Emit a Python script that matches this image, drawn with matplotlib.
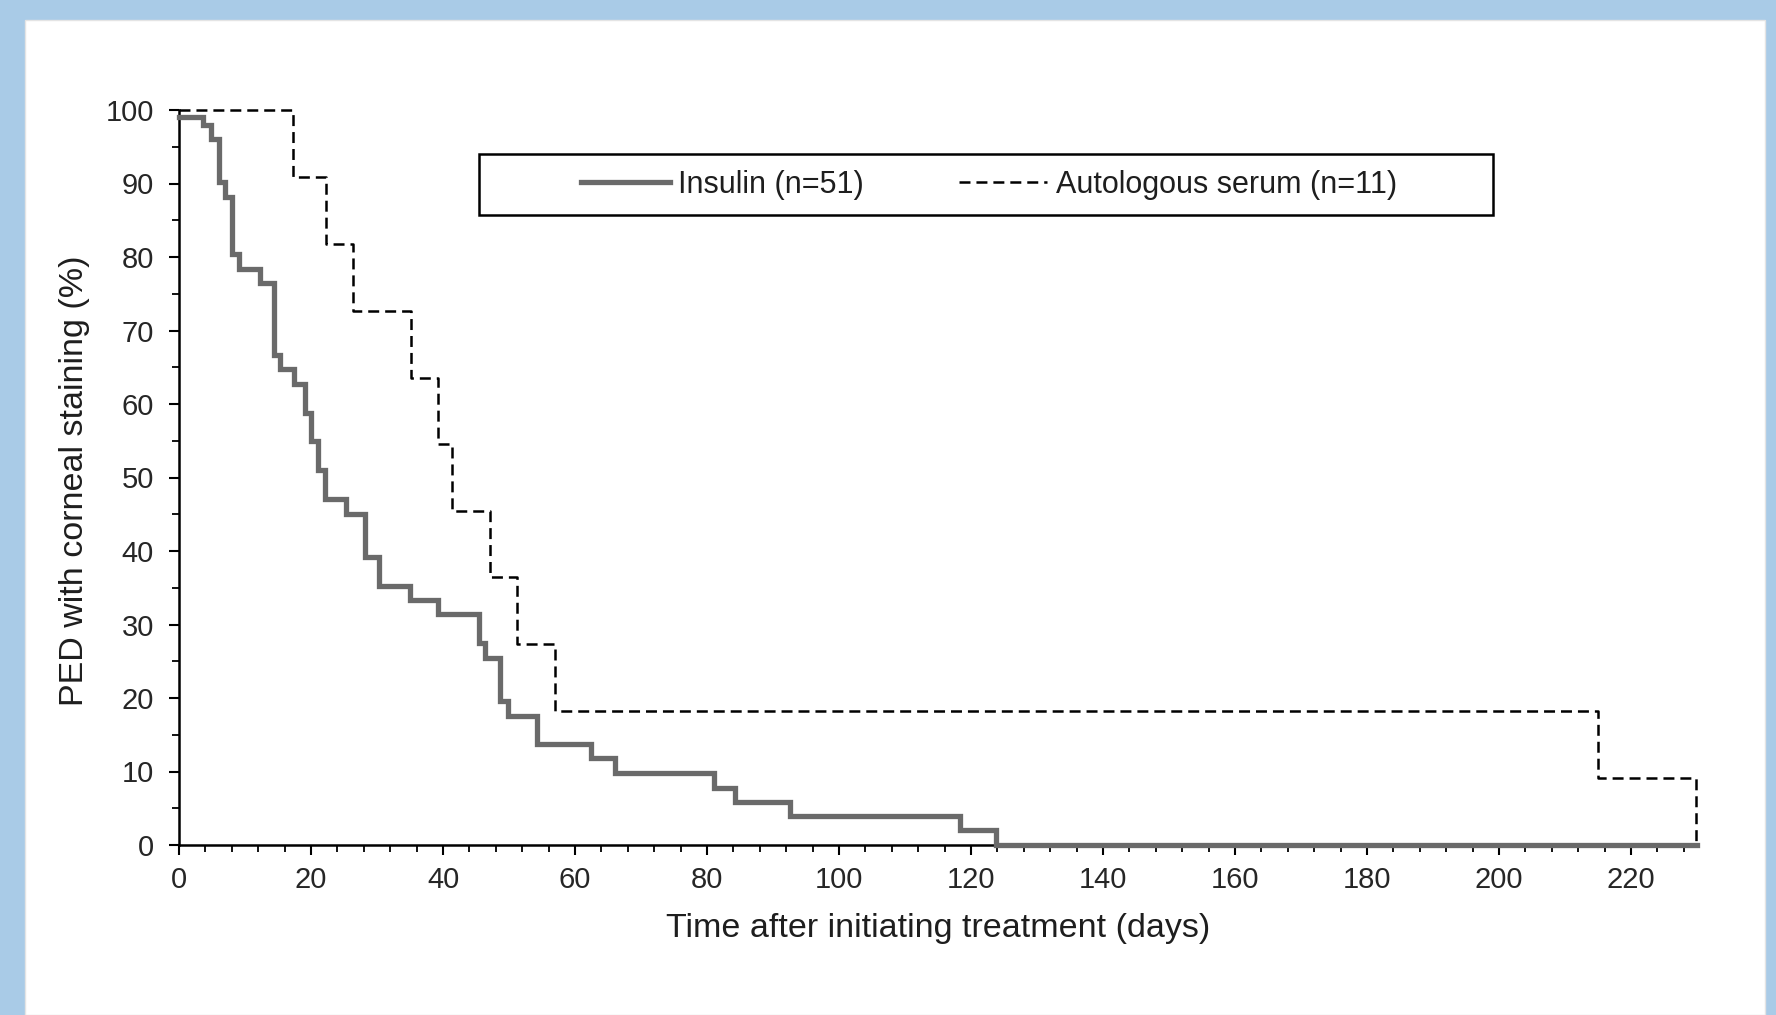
import matplotlib
matplotlib.use("Agg")
import matplotlib.pyplot as plt
from matplotlib.patches import Rectangle
from matplotlib.ticker import MultipleLocator

# ---------------- data ----------------
# Insulin (n=51): start level, then drop times (days) and level after each drop (%)
insulin_start = 99.0
insulin_times = [3.6, 4.9, 6.1, 7.0, 8.0, 9.1, 12.3, 14.4, 15.3, 17.4, 19.1, 20.0,
                 21.1, 22.1, 25.3, 28.2, 30.3, 35.0, 39.3, 45.4, 46.3, 48.7, 49.9,
                 54.2, 62.4, 66.1, 81.0, 84.2, 92.5, 118.3, 123.8]
insulin_levels = [98.0, 96.1, 90.2, 88.2, 80.4, 78.4, 76.5, 66.7, 64.7, 62.7, 58.8, 54.9,
                  51.0, 47.1, 45.1, 39.2, 35.3, 33.3, 31.4, 27.5, 25.5, 19.6, 17.6,
                  13.7, 11.8, 9.8, 7.8, 5.9, 3.9, 2.0, 0.0]
insulin_end = 230

# Autologous serum (n=11)
serum_start = 100.0
serum_times = [17.3, 22.3, 26.3, 35.2, 39.3, 41.4, 47.1, 51.2, 57.0, 215.0, 229.8]
serum_levels = [90.9, 81.8, 72.7, 63.6, 54.5, 45.5, 36.4, 27.3, 18.2, 9.1, 0.0]

labels = ["Insulin (n=51)", "Autologous serum (n=11)"]
x_label = "Time after initiating treatment (days)"
y_label = "PED with corneal staining (%)"
x_major = list(range(0, 221, 20))
y_major = list(range(0, 101, 10))

# ---------------- style ----------------
plt.rcParams['font.family'] = ['Liberation Sans', 'DejaVu Sans']
plt.rcParams['lines.scale_dashes'] = False

W, H = 1776, 1015
fig = plt.figure(figsize=(W / 100, H / 100), dpi=100)
fig.patch.set_facecolor('#a9cbe7')
panel = Rectangle((25 / W, 0), (1765 - 25) / W, (H - 20) / H,
                  transform=fig.transFigure, facecolor='white',
                  edgecolor='#e4e4e4', lw=1.0, zorder=-10)
fig.patches.append(panel)

ax = fig.add_axes([179 / W, (H - 845) / H, 1518 / W, 735 / H])
ax.set_facecolor('none')
ax.set_zorder(5)

ix = [0] + insulin_times + [insulin_end]
iy = [insulin_start] + insulin_levels + [insulin_levels[-1]]
sx = [0] + serum_times
sy = [serum_start] + serum_levels

ax.step(ix, iy, where='post', color='#6a6a6a', lw=3.8, solid_joinstyle='miter',
        label=labels[0], clip_on=False, zorder=3)
ax.step(sx, sy, where='post', color='black', lw=1.8, linestyle=(0, (7.9, 4.3)),
        label=labels[1], clip_on=False, zorder=4)

ax.set_xlim(0, 230)
ax.set_ylim(0, 100)
ax.set_xticks(x_major)
ax.set_yticks(y_major)
ax.xaxis.set_minor_locator(MultipleLocator(4))
ax.yaxis.set_minor_locator(MultipleLocator(5))

for s in ['top', 'right']:
    ax.spines[s].set_visible(False)
for s in ['left', 'bottom']:
    ax.spines[s].set_linewidth(1.8)
    ax.spines[s].set_color('black')

ax.tick_params(which='major', direction='out', length=7, width=1.5, color='black',
               labelsize=21, labelcolor='#262626')
ax.tick_params(axis='x', which='major', pad=8)
ax.tick_params(axis='y', which='major', pad=11)
ax.tick_params(which='minor', direction='out', length=5, width=1.3, color='black')

ax.set_xlabel(x_label, fontsize=24.5, color='#1e1e1e', va='center')
ax.xaxis.set_label_coords(0.5, (845 - 929) / 735)
ax.set_ylabel(y_label, fontsize=24.5, color='#1e1e1e', va='center')
ax.yaxis.set_label_coords((74 - 179) / 1518, 0.495)

# legend frame and entries
ax.add_patch(Rectangle(((479 - 179) / 1518, (845 - 215) / 735), (1493 - 479) / 1518,
                       (215 - 154) / 735, transform=ax.transAxes, fill=False,
                       edgecolor='black', lw=1.8, clip_on=False, zorder=5))
leg = ax.legend(loc='center', bbox_to_anchor=(0.5336, 0.8986), ncol=2, frameon=False,
                fontsize=22, handlelength=2.9, handletextpad=0.28, columnspacing=3.1,
                borderpad=0.2)
for t in leg.get_texts():
    t.set_color('#1e1e1e')

fig.savefig('out.png', dpi=100, facecolor=fig.get_facecolor())
